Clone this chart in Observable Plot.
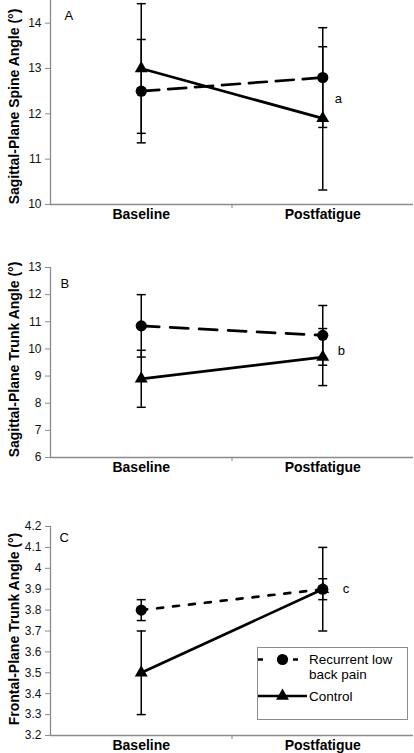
<!DOCTYPE html>
<html><head><meta charset="utf-8">
<script src="https://cdn.jsdelivr.net/npm/d3@7"></script>
<script src="https://cdn.jsdelivr.net/npm/@observablehq/plot@0.6"></script>
<style>
body{margin:0;background:#fff;}
#wrap{position:relative;width:414px;height:753px;overflow:hidden;font-family:"Liberation Sans",Arial,sans-serif;color:#111;}
#wrap > svg{position:absolute;left:0;overflow:visible;}
#legend{position:absolute;left:257px;top:647px;width:151px;height:73px;border:1px solid #8c8c8c;box-sizing:border-box;background:#fff;}
</style></head><body><div id="wrap"></div>
<script>
// ---- data ----
const categories = ["Baseline", "Postfatigue"];
const series = ["Recurrent low back pain", "Control"];

// Panel A: Sagittal-plane spine angle (mean, error)
const spineRLBP = [12.5, 12.8];
const spineRLBPErr = [1.14, 1.10];
const spineCtrl = [13.0, 11.9];
const spineCtrlErr = [1.43, 1.58];

// Panel B: Sagittal-plane trunk angle
const sagTrunkRLBP = [10.85, 10.5];
const sagTrunkRLBPErr = [1.15, 1.1];
const sagTrunkCtrl = [8.9, 9.7];
const sagTrunkCtrlErr = [1.05, 1.05];

// Panel C: Frontal-plane trunk angle
const frontTrunkRLBP = [3.8, 3.9];
const frontTrunkRLBPErr = [0.05, 0.05];
const frontTrunkCtrl = [3.5, 3.9];
const frontTrunkCtrlErr = [0.2, 0.2];

// tick labels
const ticksA = [10, 11, 12, 13, 14];
const ticksB = [6, 7, 8, 9, 10, 11, 12, 13];
const ticksC = [3.2, 3.3, 3.4, 3.5, 3.6, 3.7, 3.8, 3.9, 4.0, 4.1, 4.2];

const panelLetters = ["A", "B", "C"];
const noteLetters = ["a", "b", "c"];
const noteValues = [12.33, 9.92, 3.9];
const yTitles = [
  "Sagittal-Plane Spine Angle (°)",
  "Sagittal-Plane Trunk Angle (°)",
  "Frontal-Plane Trunk Angle (°)"
];

// ---- layout / style ----
const FONT = '"Liberation Sans", Arial, sans-serif';
const AXIS = "#8c8c8c";
const panels = [
  {top: 0, height: 250, mt: 0, mb: 46, domain: [10, 14.5], ticks: ticksA,
   rlbp: spineRLBP, rlbpErr: spineRLBPErr, ctrl: spineCtrl, ctrlErr: spineCtrlErr,
   dash: "18,9", letterDx: 14, letterDy: 10, noteDx: 12, titleDy: 4},
  {top: 250, height: 250, mt: 17, mb: 43, domain: [6, 13], ticks: ticksB,
   rlbp: sagTrunkRLBP, rlbpErr: sagTrunkRLBPErr, ctrl: sagTrunkCtrl, ctrlErr: sagTrunkCtrlErr,
   dash: "18,11", letterDx: 10, letterDy: 11, noteDx: 15, titleDy: -3},
  {top: 500, height: 253, mt: 26, mb: 18, domain: [3.2, 4.2], ticks: ticksC,
   rlbp: frontTrunkRLBP, rlbpErr: frontTrunkRLBPErr, ctrl: frontTrunkCtrl, ctrlErr: frontTrunkCtrlErr,
   dash: "6,10", letterDx: 9, letterDy: 6, noteDx: 20, titleDy: -2}
];

const capSymbol = {
  draw(ctx) { ctx.moveTo(-4.5, 0); ctx.lineTo(4.5, 0); }
};

const xPos = (c) => categories.indexOf(c) + 0.5;
const boundaries = d3.range(1, categories.length);
const wrap = document.getElementById("wrap");

panels.forEach((p, k) => {
  const rows = [];
  categories.forEach((c, i) => {
    rows.push({cat: c, series: series[0], mean: p.rlbp[i], err: p.rlbpErr[i]});
    rows.push({cat: c, series: series[1], mean: p.ctrl[i], err: p.ctrlErr[i]});
  });
  const rl = rows.filter(d => d.series === series[0]);
  const ct = rows.filter(d => d.series === series[1]);
  const fmt = d3.format("~g");

  const chart = Plot.plot({
    width: 414, height: p.height,
    marginTop: p.mt, marginBottom: p.mb, marginLeft: 50, marginRight: 1,
    style: {fontFamily: FONT, fontSize: "12px", color: "#111", background: "transparent", overflow: "visible"},
    x: {type: "linear", domain: [0, categories.length], axis: null},
    y: {type: "linear", domain: p.domain, axis: null},
    marks: [
      Plot.ruleX([0], {stroke: AXIS, strokeWidth: 1.3}),
      Plot.ruleY([p.domain[0]], {stroke: AXIS, strokeWidth: 1.3}),
      Plot.axisY({ticks: p.ticks, tickSize: 5, tickPadding: 4, stroke: AXIS, tickFormat: fmt, fontSize: 12, fill: "#111", label: null}),
      Plot.axisX({ticks: boundaries, tickSize: 4, tickFormat: () => "", stroke: AXIS, label: null}),
      Plot.text(categories, {x: d => xPos(d), frameAnchor: "bottom", dy: 10.5, lineAnchor: "middle",
        text: d => d, fontWeight: "bold", fontSize: 14, fill: "#000"}),
      // axis title
      Plot.text([yTitles[k]], {frameAnchor: "left", dx: -36, dy: p.titleDy, rotate: -90, text: d => d,
        textAnchor: "middle", fontWeight: "bold", fontSize: 14, fill: "#000"}),
      // panel letter
      Plot.text([panelLetters[k]], {frameAnchor: "top-left", dx: p.letterDx, dy: p.letterDy, text: d => d,
        fontSize: 13, fill: "#000"}),
      // error bars
      Plot.ruleX(rows, {x: d => xPos(d.cat), y1: d => d.mean - d.err, y2: d => d.mean + d.err, stroke: "#000", strokeWidth: 1.5}),
      Plot.dot(rows, {x: d => xPos(d.cat), y: d => d.mean - d.err, symbol: capSymbol, stroke: "#000", strokeWidth: 1.5, fill: "none", r: 3}),
      Plot.dot(rows, {x: d => xPos(d.cat), y: d => d.mean + d.err, symbol: capSymbol, stroke: "#000", strokeWidth: 1.5, fill: "none", r: 3}),
      // lines
      Plot.line(rl, {x: d => xPos(d.cat), y: "mean", stroke: "#000", strokeWidth: 2.7, strokeDasharray: p.dash}),
      Plot.line(ct, {x: d => xPos(d.cat), y: "mean", stroke: "#000", strokeWidth: 2.7}),
      // markers
      Plot.dot(rl, {x: d => xPos(d.cat), y: "mean", symbol: "circle", r: 5.6, fill: "#000"}),
      Plot.dot(ct, {x: d => xPos(d.cat), y: "mean", symbol: "triangle", r: 4.8, fill: "#000"}),
      // significance note
      Plot.text([noteLetters[k]], {x: xPos(categories[1]), y: noteValues[k], dx: p.noteDx, text: d => d,
        textAnchor: "start", lineAnchor: "middle", fontSize: 13, fill: "#000"})
    ]
  });
  chart.style.top = p.top + "px";
  wrap.appendChild(chart);
});

// ---- legend (panel C) ----
const legend = document.createElement("div");
legend.id = "legend";
wrap.appendChild(legend);
const lsvg = d3.select(legend).append("svg")
  .attr("width", 151).attr("height", 73)
  .style("position", "absolute").style("left", "-1px").style("top", "-1px");
const legendRows = [
  {name: series[0], y: 12.5, x2: 42, dash: "5,30", symbol: d3.symbolCircle, size: Math.PI * 5.6 * 5.6},
  {name: series[1], y: 49, x2: 50, dash: null, symbol: d3.symbolTriangle, size: Math.PI * 4.8 * 4.8}
];
legendRows.forEach(r => {
  const line = lsvg.append("line").attr("x1", 1).attr("x2", r.x2).attr("y1", r.y).attr("y2", r.y)
    .attr("stroke", "#000").attr("stroke-width", 2.7);
  if (r.dash) line.attr("stroke-dasharray", r.dash);
  lsvg.append("path").attr("d", d3.symbol(r.symbol, r.size)())
    .attr("transform", `translate(25.5,${r.y})`).attr("fill", "#000");
});
// text (HTML so long names wrap)
legendRows.forEach(r => {
  const s = document.createElement("div");
  s.textContent = r.name;
  s.style.cssText = `position:absolute;left:51px;top:${r.y - 8.5}px;width:96px;font-size:13.5px;line-height:15px;color:#000;font-family:${FONT};`;
  legend.appendChild(s);
});
</script>
</body></html>
